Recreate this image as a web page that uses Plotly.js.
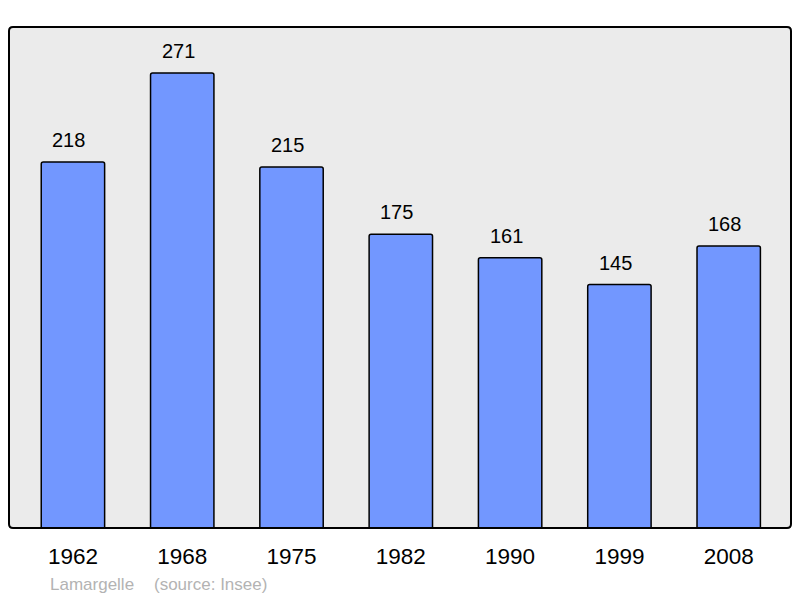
<!DOCTYPE html>
<html>
<head>
<meta charset="utf-8">
<script src="https://cdn.plot.ly/plotly-3.0.1.min.js"></script>
<style>html,body{margin:0;padding:0;background:#fff}#chart{width:800px;height:598px}</style>
</head>
<body>
<div id="chart"></div>
<script>
const years = ["1962", "1968", "1975", "1982", "1990", "1999", "2008"];
const population = [218, 271, 215, 175, 161, 145, 168];
const sourceLabel = "Lamargelle";
const sourceNote = "(source: Insee)";

const W = 800, H = 598;
const L = 9, R = 9, T = 27, B = 70;
const pw = W - L - R, ph = H - T - B;
const rx = 4 / pw, ry = 4 / ph;
const framePath = `M ${rx},0 L ${1-rx},0 Q 1,0 1,${ry} L 1,${1-ry} Q 1,1 ${1-rx},1 L ${rx},1 Q 0,1 0,${1-ry} L 0,${ry} Q 0,0 ${rx},0 Z`;
const FONT = 'Liberation Sans, Arial, sans-serif';

const trace = {
  type: 'bar',
  x: years,
  y: population,
  width: 0.58,
  marker: {color: '#7297ff', line: {color: '#000', width: 1.5}, cornerradius: 2},
  hoverinfo: 'none'
};

const annotations = years.map((yr, i) => ({
  x: i, y: population[i], xref: 'x', yref: 'y',
  text: String(population[i]), showarrow: false,
  yanchor: 'bottom', yshift: 9, xshift: -4,
  font: {family: FONT, size: 20, color: '#000'}
}));
annotations.push({
  xref: 'paper', yref: 'paper', x: (48 - L) / pw, y: (T + ph - 584) / ph,
  xanchor: 'left', yanchor: 'middle', showarrow: false, text: sourceLabel,
  font: {family: FONT, size: 17, color: '#b3b3b3'}
});
annotations.push({
  xref: 'paper', yref: 'paper', x: (152 - L) / pw, y: (T + ph - 584) / ph,
  xanchor: 'left', yanchor: 'middle', showarrow: false, text: sourceNote,
  font: {family: FONT, size: 17, color: '#b3b3b3'}
});

const layout = {
  width: W, height: H,
  margin: {l: L, r: R, t: T, b: B, pad: 0},
  paper_bgcolor: '#fff',
  plot_bgcolor: 'rgba(0,0,0,0)',
  showlegend: false,
  xaxis: {
    type: 'category', range: [-0.585, 6.57], fixedrange: true,
    showgrid: false, zeroline: false, showline: false,
    ticks: 'outside', ticklen: 8, tickcolor: 'rgba(0,0,0,0)',
    tickfont: {family: FONT, size: 22.5, color: '#000'}
  },
  yaxis: {
    range: [0, 298.4], fixedrange: true,
    showgrid: false, zeroline: false, showline: false, showticklabels: false, ticks: ''
  },
  shapes: [
    {type: 'path', xref: 'paper', yref: 'paper', path: framePath, fillcolor: '#ebebeb', line: {width: 0}, layer: 'below'},
    {type: 'path', xref: 'paper', yref: 'paper', path: framePath, fillcolor: 'rgba(0,0,0,0)', line: {color: '#000', width: 2}, layer: 'above'}
  ],
  annotations: annotations
};

Plotly.newPlot('chart', [trace], layout, {displayModeBar: false, staticPlot: true});
</script>
</body>
</html>
